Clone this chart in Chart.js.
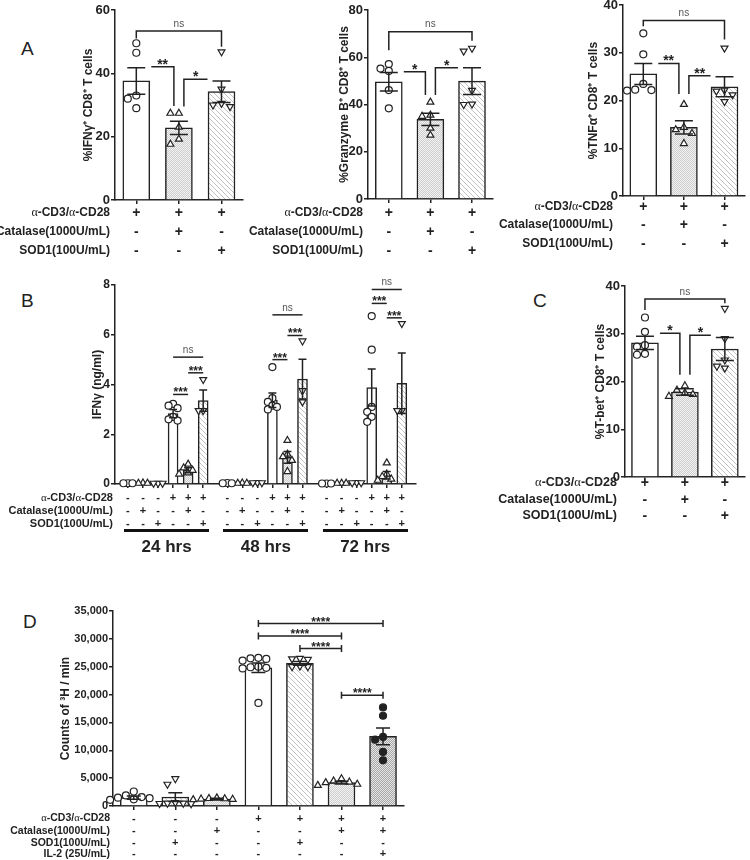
<!DOCTYPE html>
<html>
<head>
<meta charset="utf-8">
<title>Catalase / SOD1 and CD8 T cell responses</title>
<script src="https://cdn.jsdelivr.net/npm/chart.js@4.4.1/dist/chart.umd.min.js"></script>
<style>
  body { margin: 0; width: 750px; height: 860px; position: relative; overflow: hidden; background: #fff;
         font-family: "Liberation Sans", Arial, sans-serif; color: #222; }
  canvas { position: absolute; }
  .t { position: absolute; white-space: nowrap; line-height: 1; font-weight: bold; }
  .g { font-family: "Liberation Serif", serif; font-weight: normal; }
  .letter { position: absolute; font-size: 19px; line-height: 1; }
  .rule { position: absolute; height: 3px; background: #111; }
  .hrs { position: absolute; font-size: 17px; font-weight: bold; line-height: 1; transform: translate(-50%, -50%); }
</style>
</head>
<body>
<div class="letter" style="left:21px;top:39px">A</div>
<div class="letter" style="left:21px;top:291px">B</div>
<div class="letter" style="left:533px;top:291px">C</div>
<div class="letter" style="left:23px;top:612px">D</div>
<script>
/* ============================
   DATA
============================ */
// conditions for A and C
const rowsA = ["α-CD3/α-CD28", "Catalase(1000U/mL)", "SOD1(100U/mL)"];
const signsA = [["+", "+", "+"], ["-", "+", "-"], ["-", "-", "+"]];

// A: %IFNγ+ CD8+ T cells
const ifngMean = [37.6, 22.8, 34.2];
const ifngSem = [4.2, 2.1, 3.4];
const ifngPts = [[49.5, 46.5, 33, 32, 29], [27.4, 27.4, 23, 19.2, 17.6], [46.8, 35, 30.5, 30, 29.5]];
const ifngSig = [
  { kind: "span", from: 0, to: 2, y: 53.4, y1: 51, y2: 48.4, label: "ns" },
  { kind: "left", from: 0, to: 1, y: 42.1, y1: 29.7, label: "**" },
  { kind: "right", from: 1, to: 2, y: 38.1, y1: 29.5, label: "*" }
];

// A: %Granzyme B+ CD8+ T cells
const grzMean = [49.6, 33.7, 49.9];
const grzSem = [3.9, 2.6, 5.7];
const grzPts = [[57.1, 55.2, 54.2, 46.1, 38.4], [41, 35.5, 35, 30, 27], [63.8, 62.6, 46, 40.2, 40]];
const grzSig = [
  { kind: "span", from: 0, to: 2, y: 70.8, y1: 63, y2: 67, label: "ns" },
  { kind: "left", from: 0, to: 1, y: 53.9, y1: 44, label: "*" },
  { kind: "right", from: 1, to: 2, y: 55.6, y1: 44, label: "*" }
];

// A: %TNFα+ CD8+ T cells
const tnfMean = [25.6, 14.4, 22.9];
const tnfSem = [2.2, 1.4, 2.1];
const tnfPts = [[34.1, 29.7, 23.5, 22.3, 22.2, 22.1], [19.2, 14.4, 13.9, 13.1, 11], [31, 22.2, 22, 21.2, 19.8]];
const tnfSig = [
  { kind: "span", from: 0, to: 2, y: 36.8, y1: 35.6, y2: 32.8, label: "ns" },
  { kind: "left", from: 0, to: 1, y: 27.8, y1: 21.4, label: "**" },
  { kind: "right", from: 1, to: 2, y: 25.2, y1: 21.4, label: "**" }
];

// B: IFNγ (ng/ml) over time
const hours = ["24 hrs", "48 hrs", "72 hrs"];
const signsB = [["-", "-", "-", "+", "+", "+"], ["-", "+", "-", "-", "+", "-"], ["-", "-", "+", "-", "-", "+"]];
const ifnMean = [[0.03, 0.03, 0.03, 2.83, 0.55, 3.35], [0.03, 0.03, 0.05, 3.37, 1.07, 4.22], [0.02, 0.03, 0.05, 3.88, 0.35, 4.05]];
const ifnSem = [[0, 0, 0, 0.17, 0.1, 0.43], [0, 0, 0, 0.29, 0.24, 0.8], [0, 0, 0, 0.74, 0.15, 1.22]];
const ifnPts = [
  [[0.03, 0.03, 0.03], [0.04, 0.03, 0.03], [0.03, 0.03, 0.03], [3.22, 3.15, 3.05, 2.7, 2.6, 2.55], [0.8, 0.65, 0.55, 0.45, 0.4], [4.2, 2.95, 2.95]],
  [[0.04, 0.03, 0.03], [0.04, 0.03, 0.03], [0.06, 0.05, 0.05], [4.7, 3.45, 3.3, 3.15, 3.1, 3.0], [1.75, 1.2, 1.1, 0.95, 0.5], [5.75, 3.75, 3.3]],
  [[0.02, 0.02, 0.02], [0.03, 0.03, 0.03], [0.06, 0.05, 0.05], [6.75, 5.4, 3.1, 2.9, 2.7, 2.5], [0.85, 0.4, 0.3, 0.2, 0.15], [6.45, 2.95, 2.95]]
];
const ifnSig = [
  [{ from: 3, to: 4, y: 3.6, label: "***" }, { from: 4, to: 5, y: 4.47, label: "***" }, { from: 3, to: 5, y: 5.1, label: "ns" }],
  [{ from: 3, to: 4, y: 5.0, label: "***" }, { from: 4, to: 5, y: 5.97, label: "***" }, { from: 3, to: 5, y: 6.8, label: "ns" }],
  [{ from: 3, to: 4, y: 7.26, label: "***" }, { from: 4, to: 5, y: 6.68, label: "***" }, { from: 3, to: 5, y: 7.82, label: "ns" }]
];

// C: %T-bet+ CD8+ T cells
const tbetMean = [28.1, 17.8, 26.8];
const tbetSem = [1.4, 0.7, 2.4];
const tbetPts = [[33.4, 30.4, 27.6, 27.3, 25.8, 25.6], [19.1, 18.2, 17.6, 17.3, 16.9], [35.3, 29, 24.5, 23.2, 22.8]];
const tbetSig = [
  { kind: "span", from: 0, to: 2, y: 37.3, y1: 35, y2: 36.4, label: "ns" },
  { kind: "left", from: 0, to: 1, y: 30.1, y1: 21.4, label: "*" },
  { kind: "right", from: 1, to: 2, y: 29.7, y1: 21.4, label: "*" }
];

// D: 3H thymidine counts
const rowsD = ["α-CD3/α-CD28", "Catalase(1000U/mL)", "SOD1(100U/mL)", "IL-2 (25U/mL)"];
const signsD = [
  ["-", "-", "-", "+", "+", "+", "+"],
  ["-", "-", "+", "-", "-", "+", "+"],
  ["-", "+", "-", "-", "+", "-", "-"],
  ["-", "-", "-", "-", "-", "-", "+"]
];
const cpmMean = [1500, 1610, 1260, 24800, 25600, 4200, 12500];
const cpmSem = [280, 780, 130, 850, 330, 230, 1500];
const cpmPts = [
  [2600, 1900, 1600, 1500, 1400, 1200, 1100],
  [4900, 3900, 600, 500, 500, 450, 400],
  [1450, 1350, 1300, 1250, 1200, 1150],
  [26600, 26500, 26400, 26100, 25000, 24900, 24800, 24700, 18500],
  [26500, 26400, 26300, 25100, 25000, 25000],
  [4900, 4500, 4300, 4200, 3900, 3700],
  [17700, 16200, 12400, 11900, 9700, 8200]
];
const cpmSig = [
  { kind: "cap", from: 3, to: 6, y: 32735, label: "****" },
  { kind: "cap", from: 3, to: 5, y: 30520, label: "****" },
  { kind: "cap", from: 4, to: 5, y: 28250, label: "****" },
  { kind: "cap", from: 5, to: 6, y: 19870, label: "****" }
];

/* ============================
   STYLE HELPERS
============================ */
const FONT = "'Liberation Sans', Arial, sans-serif";
const INK = "#222";

function tile(size, draw) {
  const c = document.createElement("canvas");
  c.width = c.height = size;
  const x = c.getContext("2d");
  draw(x, size);
  return x.createPattern(c, "repeat");
}
function checker(a, b) {
  return tile(2, x => {
    x.fillStyle = b; x.fillRect(0, 0, 2, 2);
    x.fillStyle = a; x.fillRect(0, 0, 1, 1); x.fillRect(1, 1, 1, 1);
  });
}
const fills = {
  open: "#ffffff",
  check: checker("#cdcdcd", "#f3f3f3"),
  dark: checker("#a6a6a6", "#e6e6e6"),
  diag: tile(5, (x, s) => {
    x.fillStyle = "#fff"; x.fillRect(0, 0, s, s);
    x.strokeStyle = "#c2c2c2"; x.lineWidth = 1;
    for (const o of [-s, 0, s]) { x.beginPath(); x.moveTo(o, 0); x.lineTo(o + s, s); x.stroke(); }
  })
};
const markers = {
  circle: { style: "circle", rot: 0, r: 3.5, fill: "#fff" },
  up: { style: "triangle", rot: 0, r: 4, fill: "#fff" },
  down: { style: "triangle", rot: 180, r: 4, fill: "#fff" },
  dot: { style: "circle", rot: 0, r: 3.5, fill: INK }
};

// spread points sideways when their values sit close together
function swarm(vals, tol, step) {
  const placed = [];
  return vals.map(v => {
    const taken = placed.filter(p => Math.abs(p.v - v) < tol).map(p => p.o);
    let o = 0;
    for (const c of [0, -1, 1, -2, 2, -3, 3, -4, 4]) {
      if (!taken.includes(c * step)) { o = c * step; break; }
    }
    placed.push({ v, o });
    return o;
  });
}

/* ============================
   PLUGINS
============================ */
const errPlugin = {
  id: "errbars",
  afterDatasetsDraw(chart) {
    const { ctx } = chart;
    const y = chart.scales.y;
    chart.data.datasets.forEach((ds, i) => {
      if (!ds.sem) return;
      const meta = chart.getDatasetMeta(i);
      ctx.save();
      ctx.strokeStyle = INK;
      ctx.lineWidth = 1.5;
      meta.data.forEach((bar, j) => {
        const s = ds.sem[j];
        if (!s) return;
        const m = ds.data[j].y;
        const t = y.getPixelForValue(m + s), b = y.getPixelForValue(Math.max(m - s, 0));
        const w = ds.capW / 2;
        ctx.beginPath();
        ctx.moveTo(bar.x, t); ctx.lineTo(bar.x, b);
        ctx.moveTo(bar.x - w, t); ctx.lineTo(bar.x + w, t);
        ctx.moveTo(bar.x - w, b); ctx.lineTo(bar.x + w, b);
        ctx.stroke();
      });
      ctx.restore();
    });
  }
};

const sigPlugin = {
  id: "sig",
  afterDraw(chart, args, opts) {
    const { ctx } = chart;
    const x = chart.scales.x, y = chart.scales.y;
    ctx.save();
    ctx.strokeStyle = INK;
    ctx.lineWidth = 1.5;
    ctx.textAlign = "center";
    (opts.items || []).forEach(it => {
      const x1 = x.getPixelForValue(it.from), x2 = x.getPixelForValue(it.to);
      const yt = y.getPixelForValue(it.y);
      let a = x1, b = x2;
      ctx.beginPath();
      if (it.kind === "span") {
        ctx.moveTo(x1, y.getPixelForValue(it.y1)); ctx.lineTo(x1, yt);
        ctx.lineTo(x2, yt); ctx.lineTo(x2, y.getPixelForValue(it.y2));
      } else if (it.kind === "left") {
        a = x1 + 15; b = x2 - 5;
        ctx.moveTo(a, yt); ctx.lineTo(b, yt); ctx.lineTo(b, y.getPixelForValue(it.y1));
      } else if (it.kind === "right") {
        a = x1 + 5; b = x2 - 14;
        ctx.moveTo(a, y.getPixelForValue(it.y1)); ctx.lineTo(a, yt); ctx.lineTo(b, yt);
      } else if (it.kind === "cap") {
        ctx.moveTo(x1, yt - 3.5); ctx.lineTo(x1, yt + 3.5);
        ctx.moveTo(x1, yt); ctx.lineTo(x2, yt);
        ctx.moveTo(x2, yt - 3.5); ctx.lineTo(x2, yt + 3.5);
      } else {
        ctx.moveTo(x1, yt); ctx.lineTo(x2, yt);
      }
      ctx.stroke();
      const mid = (a + b) / 2;
      if (it.label === "ns") {
        ctx.font = opts.nsFont;
        ctx.fillStyle = "#555";
        ctx.textBaseline = "bottom";
        ctx.fillText("ns", mid, yt - 2);
      } else {
        ctx.font = opts.starFont;
        ctx.fillStyle = INK;
        ctx.textBaseline = "alphabetic";
        ctx.fillText(it.label, mid, yt + opts.starDrop);
      }
    });
    ctx.restore();
  }
};

/* ============================
   PANEL BUILDER
============================ */
function panel(p) {
  const lh = p.titleSize * 1.2;
  const W = Math.round(p.axisX - p.titleX + lh / 2);
  const left = p.axisX - W;
  const top = p.top - p.padTop;
  const xh = 10, padR = p.padR ?? 4;
  const cv = document.createElement("canvas");
  cv.width = p.right + padR - left;
  cv.height = p.bottom + xh - top;
  cv.style.left = left + "px";
  cv.style.top = top + "px";
  document.body.appendChild(cv);

  const tol = p.ymax * 0.035;
  const pointSets = p.pts.map((vals, j) => {
    const offs = swarm(vals, tol, p.step);
    const m = markers[p.kinds[j]];
    return {
      type: "scatter", order: 0, clip: false,
      data: vals.map((v, k) => ({ x: p.xs[j] + offs[k], y: v })),
      pointStyle: m.style, pointRotation: m.rot, pointRadius: m.r, pointHoverRadius: m.r,
      backgroundColor: m.fill, borderColor: INK, borderWidth: 1.2
    };
  });

  const chart = new Chart(cv, {
    type: "bar",
    data: {
      datasets: [{
        type: "bar", order: 1,
        data: p.means.map((m, j) => ({ x: p.xs[j], y: m })),
        sem: p.sems, capW: p.capW,
        backgroundColor: p.fills, borderColor: INK, borderWidth: 1.5,
        barThickness: p.bw
      }, ...pointSets]
    },
    options: {
      responsive: false,
      animation: false,
      events: [],
      layout: { padding: { top: p.padTop, right: padR, left: 0, bottom: 0 } },
      plugins: {
        legend: { display: false },
        tooltip: { enabled: false },
        sig: { items: p.sig, nsFont: "10px " + FONT, starFont: "bold " + p.starSize + "px " + FONT, starDrop: 2 }
      },
      scales: {
        x: {
          type: "linear", min: p.xmin, max: p.xmax, offset: false,
          afterBuildTicks: s => { s.ticks = p.xs.map(v => ({ value: v })); },
          afterFit: s => { s.height = xh; s.paddingLeft = 0; s.paddingRight = 0; },
          ticks: { display: false },
          grid: { display: true, offset: false, drawOnChartArea: false, drawTicks: true, tickLength: 4, color: INK, lineWidth: 1.5 },
          border: { display: true, color: INK, width: 1.5 }
        },
        y: {
          min: 0, max: p.ymax,
          afterFit: s => { s.width = W; s.paddingTop = 0; s.paddingBottom = 0; },
          ticks: {
            stepSize: p.ystep, color: INK, padding: 1,
            font: { family: FONT, size: p.tickSize, weight: "bold" },
            callback: v => v.toLocaleString("en-US")
          },
          grid: { display: true, drawOnChartArea: false, drawTicks: true, tickLength: 4, color: INK, lineWidth: 1.5 },
          border: { display: true, color: INK, width: 1.5 },
          title: { display: true, text: p.title, color: INK, padding: 0, font: { family: FONT, size: p.titleSize, weight: "bold" } }
        }
      }
    },
    plugins: [errPlugin, sigPlugin]
  });
  return { chart, left, top };
}

/* ============================
   TEXT HELPERS
============================ */
function put(html, x, y, align, size) {
  const d = document.createElement("div");
  d.className = "t";
  d.innerHTML = html.replace(/α/g, '<span class="g">α</span>');
  d.style.left = x + "px";
  d.style.top = y + "px";
  d.style.fontSize = size + "px";
  d.style.transform = align === "right" ? "translate(-100%, -50%)" : "translate(-50%, -50%)";
  document.body.appendChild(d);
}
function table(pn, rows, signs, xs, t) {
  const sx = pn.chart.scales.x;
  rows.forEach((r, k) => {
    put(r, t.right, t.rowY[k], "right", t.size);
    signs[k].forEach((s, j) => put(s, pn.left + sx.getPixelForValue(xs[j]), t.rowY[k], "center", t.signSize));
  });
}

/* ============================
   PANEL A
============================ */
const xs3 = [0, 1, 2];
const fillsA = [fills.open, fills.check, fills.diag];
const kindsA = ["circle", "up", "down"];
const commonA = { xs: xs3, xmin: -0.5, xmax: 2.5, bw: 27, capW: 18, step: 0.2, fills: fillsA, kinds: kindsA,
                  titleSize: 12, tickSize: 13, starSize: 14 };

const a1 = panel({ ...commonA, axisX: 115, right: 244, top: 10, bottom: 200, titleX: 88, padTop: 10,
  ymax: 60, ystep: 20, title: "%IFNγ⁺ CD8⁺ T cells", means: ifngMean, sems: ifngSem, pts: ifngPts, sig: ifngSig });
const a2 = panel({ ...commonA, axisX: 368, right: 494, top: 10, bottom: 199, titleX: 344, padTop: 10,
  ymax: 80, ystep: 20, title: "%Granzyme B⁺ CD8⁺ T cells", means: grzMean, sems: grzSem, pts: grzPts, sig: grzSig });
const a3 = panel({ ...commonA, axisX: 623, right: 749, padR: 1, top: 4, bottom: 196, titleX: 593, padTop: 4,
  ymax: 40, ystep: 10, title: "%TNFα⁺ CD8⁺ T cells", means: tnfMean, sems: tnfSem, pts: tnfPts, sig: tnfSig });

table(a1, rowsA, signsA, xs3, { right: 110, rowY: [212, 231, 250], size: 12, signSize: 14 });
table(a2, rowsA, signsA, xs3, { right: 363, rowY: [212, 231, 250], size: 12, signSize: 14 });
table(a3, rowsA, signsA, xs3, { right: 613, rowY: [206, 224, 243], size: 12, signSize: 14 });

/* ============================
   PANEL B
============================ */
const groupStep = 6.6;
const xsB = [], meansB = [], semsB = [], ptsB = [], fillsB = [], kindsB = [], sigB = [];
hours.forEach((h, g) => {
  ifnMean[g].forEach((m, i) => {
    xsB.push(g * groupStep + i);
    meansB.push(m);
    semsB.push(ifnSem[g][i]);
    ptsB.push(ifnPts[g][i]);
    fillsB.push(fillsA[i % 3]);
    kindsB.push(kindsA[i % 3]);
  });
  ifnSig[g].forEach(s => sigB.push({ kind: "line", from: g * groupStep + s.from, to: g * groupStep + s.to, y: s.y, label: s.label }));
});
const b = panel({ axisX: 115, right: 417, top: 285, bottom: 484, titleX: 97, padTop: 22,
  xs: xsB, xmin: -0.86, xmax: 19.13, bw: 10, capW: 8, step: 0.3, fills: fillsB, kinds: kindsB,
  titleSize: 12, tickSize: 12, starSize: 12, ymax: 8, ystep: 2, title: "IFNγ (ng/ml)",
  means: meansB, sems: semsB, pts: ptsB, sig: sigB });
const signsBAll = signsB.map(row => hours.flatMap(() => row));
table(b, rowsA, signsBAll, xsB, { right: 113, rowY: [497, 510, 523], size: 11, signSize: 11 });
hours.forEach((h, g) => {
  const x0 = b.left + b.chart.scales.x.getPixelForValue(g * groupStep) - 4;
  const x1 = b.left + b.chart.scales.x.getPixelForValue(g * groupStep + 5) + 6;
  const r = document.createElement("div");
  r.className = "rule";
  r.style.left = x0 + "px"; r.style.top = "529px"; r.style.width = (x1 - x0) + "px";
  document.body.appendChild(r);
  const t = document.createElement("div");
  t.className = "hrs";
  t.textContent = h;
  t.style.left = (x0 + x1) / 2 + "px"; t.style.top = "546px";
  document.body.appendChild(t);
});

/* ============================
   PANEL C
============================ */
const c = panel({ ...commonA, axisX: 625, right: 749, padR: 1, top: 286, bottom: 477, titleX: 600, padTop: 10,
  ymax: 40, ystep: 10, title: "%T-bet⁺ CD8⁺ T cells", means: tbetMean, sems: tbetSem, pts: tbetPts, sig: tbetSig });
table(c, rowsA, signsA, xs3, { right: 617, rowY: [482, 499, 515], size: 12.5, signSize: 14 });

/* ============================
   PANEL D
============================ */
const xsD = [0, 1, 2, 3, 4, 5, 6];
const d = panel({ axisX: 113, right: 405, top: 611, bottom: 806, titleX: 65, padTop: 10,
  xs: xsD, xmin: -0.5, xmax: 6.5, bw: 27, capW: 14, step: 0.19,
  fills: [fills.open, fills.diag, fills.check, fills.open, fills.diag, fills.check, fills.dark],
  kinds: ["circle", "down", "up", "circle", "down", "up", "dot"],
  titleSize: 12, tickSize: 11, starSize: 12, ymax: 35000, ystep: 5000, title: "Counts of ³H / min",
  means: cpmMean, sems: cpmSem, pts: cpmPts, sig: cpmSig });
table(d, rowsD, signsD, xsD, { right: 110, rowY: [818, 830, 842, 853], size: 10.5, signSize: 11 });
</script>
</body>
</html>
